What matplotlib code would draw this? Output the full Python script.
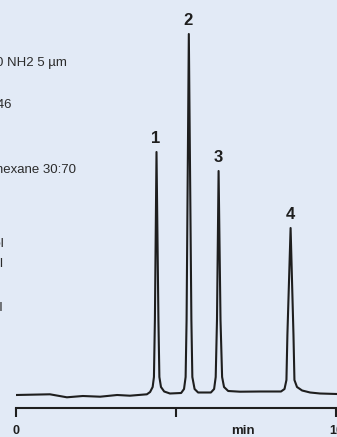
import matplotlib
matplotlib.use('Agg')
import matplotlib.pyplot as plt

# chromatogram trace: time (min) and detector signal (arb. units)
time = [0.00, 1.06, 1.59, 2.09, 2.63, 3.16, 3.56, 4.09,
        4.19, 4.27, 4.31, 4.34, 4.39, 4.45, 4.48, 4.53, 4.63, 4.81, 5.16, 5.25,
        5.30, 5.33, 5.40, 5.48, 5.51, 5.58, 5.69, 6.09, 6.19,
        6.24, 6.28, 6.33, 6.39, 6.44, 6.50, 6.63, 7.00, 7.63, 8.28, 8.39,
        8.45, 8.48, 8.58, 8.67, 8.70, 8.78, 8.94, 9.19, 9.50, 10.03]
signal = [0, 0.7, -2.3, -1, -1.7, 0, -0.7, 0.7,
          3, 8, 18, 75, 243, 75, 18, 8, 3.5, 1.5, 2, 6,
          18, 75, 361, 75, 18, 6, 2.5, 2.5, 6,
          18, 75, 224, 75, 18, 8, 4, 3.3, 3.5, 3.5, 6,
          15, 60, 167, 60, 15, 8, 4.5, 2.5, 1.5, 1]

peak_labels = ['1', '2', '3', '4']
peak_times = [4.39, 5.40, 6.33, 8.58]
peak_heights = [243, 361, 224, 167]

x_ticks = [0, 5, 10]
x_tick_labels = ['0', '', '10']

# conditions text, cut off at the left edge as in the original
cond_lines = ['Column: LiChrospher® 100 NH2 5 µm',
              'Detection: UV 246',
              'Mobile phase: Isopropanol/n-hexane 30:70',
              '1. Tocopherol',
              '2. Retinol',
              '4. Cholesterol']
cond_right = [66.5, 12, 76, 4, 2.7, 2.5]      # px, right end of each line
cond_base = [66, 108, 173, 247, 267, 311]     # px from top, baseline

bg = '#E2EAF6'
ink = '#1e1e1e'
plt.rcParams['font.family'] = ['Liberation Sans', 'DejaVu Sans']

W, H = 337, 437
fig = plt.figure(figsize=(W / 100, H / 100), dpi=100, facecolor=bg)
ax = fig.add_axes([16 / W, (H - 408) / H, 321 / W, 408 / H], facecolor=bg)

ax.plot(time, signal, color=ink, lw=1.5, solid_joinstyle='round')

for lab, t, h in zip(peak_labels, peak_times, peak_heights):
    ax.annotate(lab, (t, h), xytext=(-0.5, 4), textcoords='offset points',
                ha='center', va='bottom', fontsize=12, fontweight='bold', color=ink)

ax.set_xlim(0, 10.03)
ax.set_ylim(-13, 395)
for s in ['left', 'right', 'top']:
    ax.spines[s].set_visible(False)
ax.spines['bottom'].set_position(('data', -13))
ax.spines['bottom'].set_linewidth(1.5)
ax.spines['bottom'].set_color(ink)
ax.set_yticks([])
ax.set_xticks(x_ticks)
ax.set_xticklabels(x_tick_labels, fontsize=9, fontweight='bold', color=ink)
ax.tick_params(axis='x', length=6.5, width=1.5, color=ink, pad=6)
ax.text(7.1, -0.042, 'min', transform=ax.get_xaxis_transform(), ha='center', va='top',
        fontsize=9.5, fontweight='bold', color=ink)

for txt, xr, yb in zip(cond_lines, cond_right, cond_base):
    fig.text(xr / W, 1 - yb / H, txt, ha='right', va='baseline', fontsize=9.5, color='#2b2b2b')

fig.savefig('out.png', dpi=100, facecolor=bg)
plt.close()
